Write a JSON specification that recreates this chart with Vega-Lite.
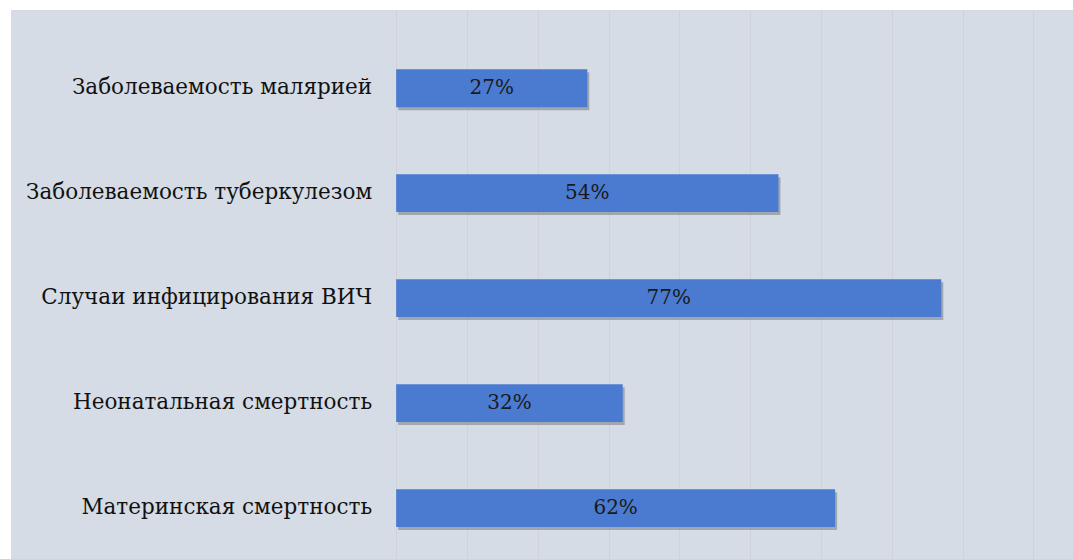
{
  "$schema": "https://vega.github.io/schema/vega-lite/v6.json",
  "width": 1062,
  "height": 549,
  "autosize": {"type": "none"},
  "padding": {"left": 11, "top": 10, "right": 0, "bottom": 0},
  "background": "white",
  "config": {"view": {"fill": "#d5dce5", "stroke": null}, "font": "DejaVu Serif"},
  "data": {"values": [
    {"indicator": "Заболеваемость малярией", "value": 27},
    {"indicator": "Заболеваемость туберкулезом", "value": 54},
    {"indicator": "Случаи инфицирования ВИЧ", "value": 77},
    {"indicator": "Неонатальная смертность", "value": 32},
    {"indicator": "Материнская смертность", "value": 62}
  ]},
  "encoding": {
    "y": {"field": "indicator", "type": "nominal", "sort": null, "axis": null,
          "scale": {"paddingInner": 0.64, "paddingOuter": 0.435, "align": 0.65}}
  },
  "layer": [
    {
      "mark": {"type": "bar", "color": "#2b2f38", "opacity": 0.3, "xOffset": 2, "yOffset": 3},
      "encoding": {
        "x": {"field": "value", "type": "quantitative",
              "scale": {"domain": [-54.4, 95.6], "nice": false, "zero": false},
              "axis": {"values": [0, 10, 20, 30, 40, 50, 60, 70, 80, 90], "grid": true, "gridColor": "#cfd3d9",
                       "labels": false, "ticks": false, "domain": false, "title": null}}
      }
    },
    {
      "mark": {"type": "bar", "color": "#4a7bd1"},
      "encoding": {"x": {"field": "value", "type": "quantitative"}}
    },
    {
      "transform": [{"calculate": "datum.value / 2", "as": "mid"}, {"calculate": "datum.value + '%'", "as": "label"}],
      "mark": {"type": "text", "font": "DejaVu Serif", "fontSize": 20, "color": "#1a1a1a"},
      "encoding": {
        "x": {"field": "mid", "type": "quantitative"},
        "text": {"field": "label"}
      }
    },
    {
      "mark": {"type": "text", "font": "DejaVu Serif", "fontSize": 21.5, "color": "#111111", "align": "right", "dx": -24},
      "encoding": {
        "x": {"datum": 0},
        "text": {"field": "indicator"}
      }
    }
  ]
}
